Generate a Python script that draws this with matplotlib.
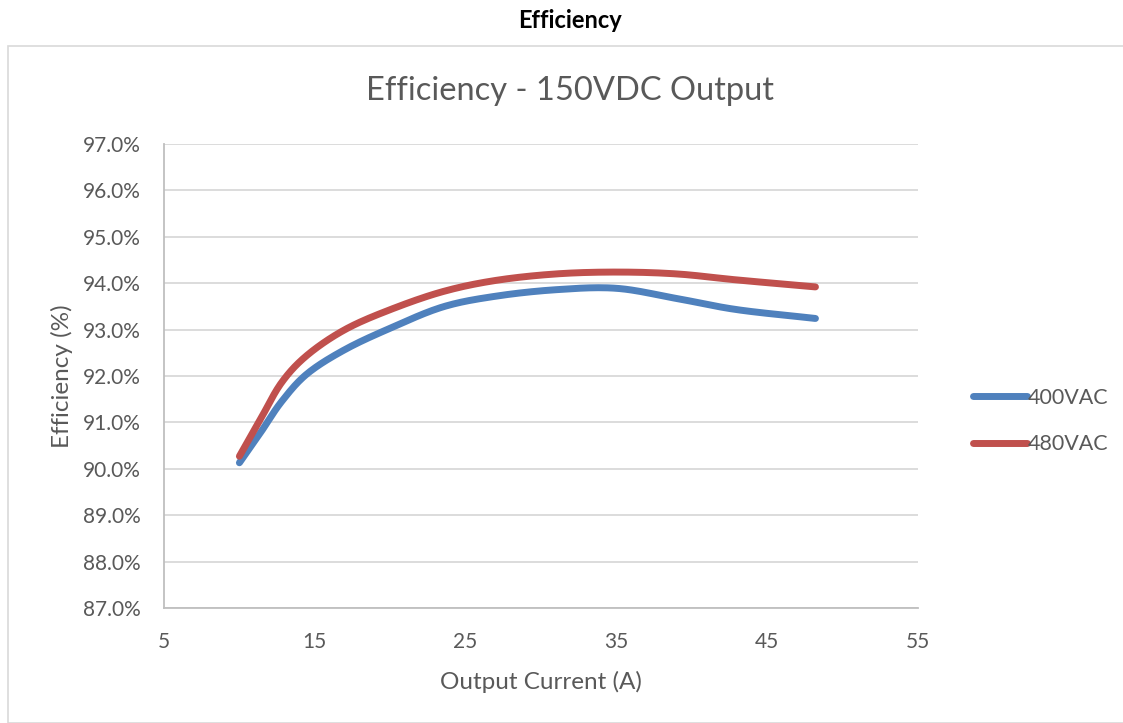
import matplotlib
matplotlib.use("Agg")
import matplotlib.pyplot as plt
import numpy as np
from matplotlib.patches import Rectangle

plt.rcParams['font.family'] = ['Lato', 'DejaVu Sans']

current = [10, 11.4, 12.8, 14.5, 17, 20, 23.5, 27, 31, 35, 39, 43, 48.2]
eff_400 = [90.13, 90.78, 91.45, 92.05, 92.57, 93.03, 93.49, 93.72, 93.86, 93.89, 93.67, 93.43, 93.24]
eff_480 = [90.27, 91.07, 91.86, 92.45, 93.00, 93.43, 93.82, 94.06, 94.20, 94.24, 94.20, 94.07, 93.92]
series_names = ["400VAC", "480VAC"]
colors = ["#4f81bd", "#c0504d"]
x_ticks = [5, 15, 25, 35, 45, 55]
y_ticks = [87, 88, 89, 90, 91, 92, 93, 94, 95, 96, 97]


def smooth(x, y, n=20):
    # Catmull-Rom smoothing (Excel-like smoothed line)
    x = np.asarray(x, float); y = np.asarray(y, float)
    px = np.concatenate([[2*x[0]-x[1]], x, [2*x[-1]-x[-2]]])
    py = np.concatenate([[2*y[0]-y[1]], y, [2*y[-1]-y[-2]]])
    xs, ys = [], []
    t = np.linspace(0, 1, n, endpoint=False)
    for i in range(1, len(px)-2):
        for arr, out in ((px, xs), (py, ys)):
            p0, p1, p2, p3 = arr[i-1], arr[i], arr[i+1], arr[i+2]
            out.extend(0.5*((2*p1) + (-p0+p2)*t + (2*p0-5*p1+4*p2-p3)*t**2 + (-p0+3*p1-3*p2+p3)*t**3))
    xs.append(x[-1]); ys.append(y[-1])
    return np.array(xs), np.array(ys)


fig = plt.figure(figsize=(11.23, 7.23), dpi=100)
fig.patches.append(Rectangle((8/1123, 0), 1.2, 1-46/723, transform=fig.transFigure,
                             fill=False, edgecolor="#d9d9d9", linewidth=1.2))
fig.text(570/1123, 1-21/723, "Efficiency", ha="center", va="center",
         fontsize=17, fontweight="bold", color="black")
fig.text(570/1123, 1-91/723, "Efficiency - 150VDC Output", ha="center", va="center",
         fontsize=23.5, color="#595959")

ax = fig.add_axes([164/1123, 1-608/723, (918-164)/1123, (608-144)/723])
for vals, name, c in zip([eff_400, eff_480], series_names, colors):
    sx, sy = smooth(current, vals)
    ax.plot(sx, sy, color=c, linewidth=5, solid_capstyle="round", label=name)

ax.set_xlim(5, 55)
ax.set_ylim(87, 97)
ax.set_xticks(x_ticks)
ax.set_yticks(y_ticks)
ax.set_yticklabels([f"{v:.1f}%" for v in y_ticks])
ax.grid(axis="y", color="#d9d9d9", linewidth=1.3)
ax.set_axisbelow(True)
for s in ["top", "right"]:
    ax.spines[s].set_visible(False)
for s in ["left", "bottom"]:
    ax.spines[s].set_color("#bfbfbf")
    ax.spines[s].set_linewidth(1.3)
ax.tick_params(axis="y", length=0, labelsize=15, labelcolor="#595959", pad=17)
ax.tick_params(axis="x", length=0, labelsize=15, labelcolor="#595959", pad=17)
ax.set_xlabel("Output Current (A)", fontsize=17.5, color="#595959", labelpad=14)
ax.set_ylabel("Efficiency (%)", fontsize=17.5, color="#595959", labelpad=7)

leg = fig.legend(loc="center left", bbox_to_anchor=(962/1123, 1-421/723), frameon=False,
                 fontsize=15.5, handlelength=2.5, handletextpad=0.05, labelspacing=1.25,
                 labelcolor="#595959", borderpad=0)

fig.savefig("out.png", dpi=100)
